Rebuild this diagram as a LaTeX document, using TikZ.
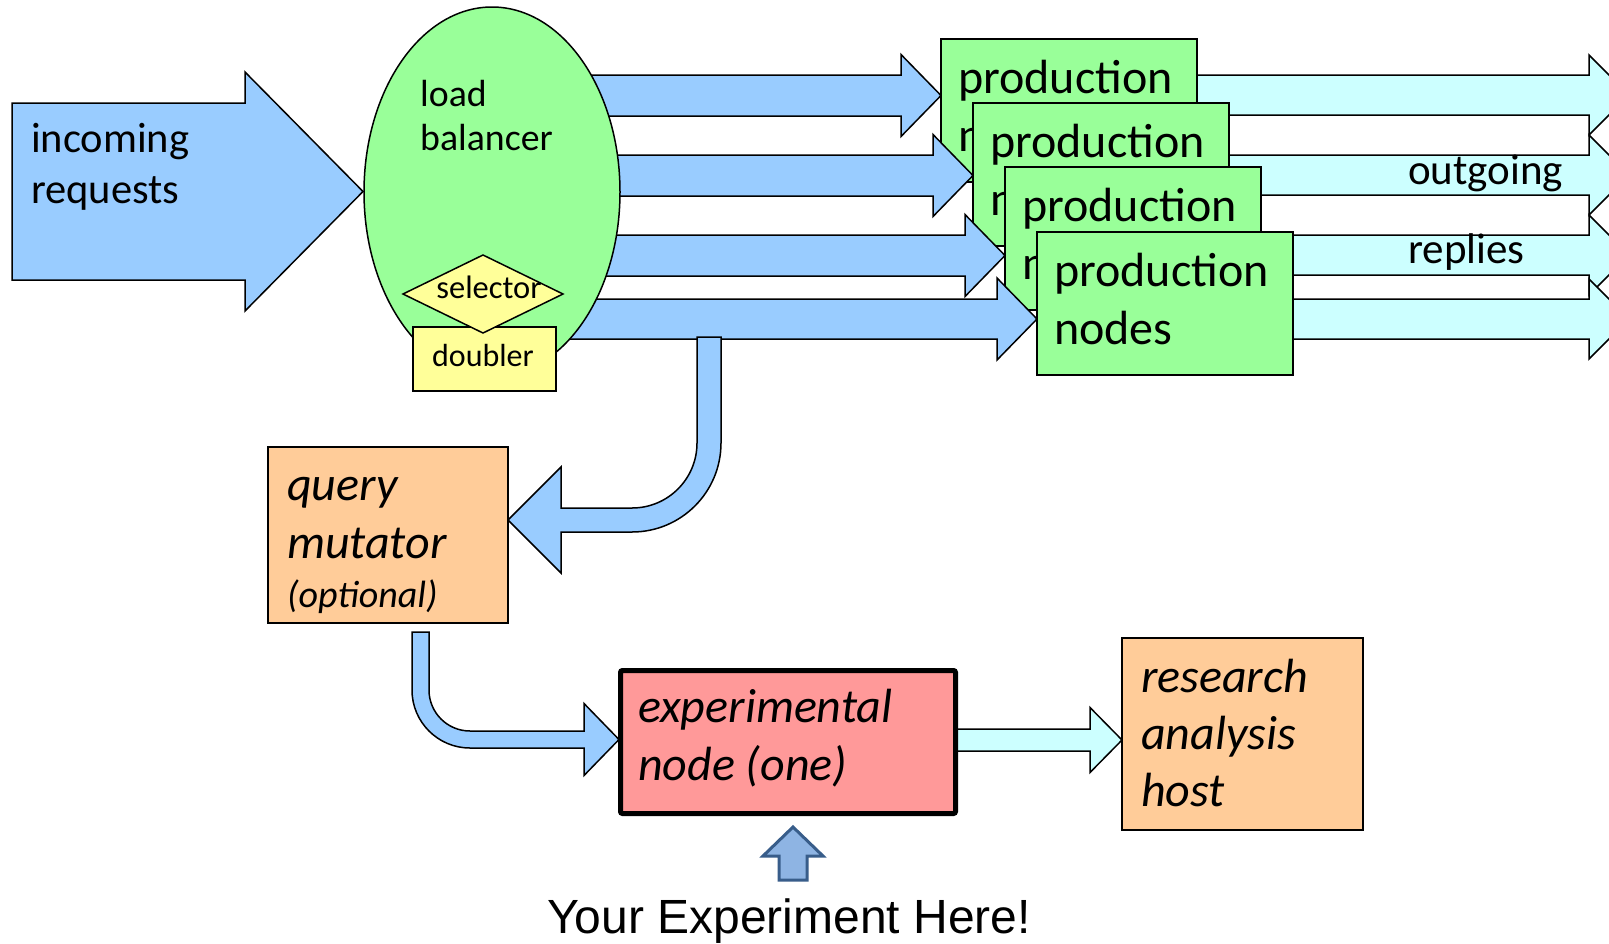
\documentclass[tikz,border=0pt]{standalone}
\usepackage{fontspec}
\setmainfont{Carlito}
\newfontfamily\arialfont{Liberation Sans}
\usetikzlibrary{shapes.geometric}
\definecolor{cblue}{HTML}{99CCFF}
\definecolor{ccyan}{HTML}{CCFFFF}
\definecolor{cgreen}{HTML}{99FF99}
\definecolor{cyellow}{HTML}{FFFF99}
\definecolor{corange}{HTML}{FFCC99}
\definecolor{cpink}{HTML}{FF9999}
\definecolor{upfill}{HTML}{8EB4E3}
\definecolor{upline}{HTML}{385D8A}
% block arrow: style, x start, x tip, y centre, shaft half width, head half width, head length
\newcommand{\hblk}[7]{\draw[#1] (#2,{#4-#5}) -- ({#3-#7},{#4-#5}) -- ({#3-#7},{#4-#6}) -- (#3,#4) -- ({#3-#7},{#4+#6}) -- ({#3-#7},{#4+#5}) -- (#2,{#4+#5}) -- cycle;}
\newcommand{\mlt}[1]{\begin{tabular}[t]{@{}l@{}}#1\end{tabular}}
\begin{document}
\begin{tikzpicture}[x=1pt,y=-1pt,
  outl/.style={draw=black, line width=1.5pt},
  bluearrow/.style={outl, fill=cblue},
  cyanarrow/.style={outl, fill=ccyan},
  boxbase/.style={outl, inner sep=0pt, outer sep=0pt, anchor=north west},
  prodbox/.style={boxbase, fill=cgreen, minimum width=256pt, minimum height=143pt},
  txt/.style={inner sep=0pt, anchor=base west},
  prodtxt/.style={txt, font=\fontsize{48}{58}\selectfont},
  itxt/.style={txt, font=\fontsize{48}{58}\selectfont\itshape}]
\useasboundingbox (0,0) rectangle (1609,943);
\clip (0,0) rectangle (1609,943);
\fill[white] (0,0) rectangle (1609,943);

% incoming requests
\hblk{bluearrow}{12}{363}{191.5}{88.5}{119.5}{118}
\node[txt, font=\fontsize{42.5}{51}\selectfont] (tin) at (31,152) {\mlt{incoming\\requests}};

% outgoing replies (behind production boxes)
\hblk{cyanarrow}{1100}{1629}{95}{20}{40}{40}
\hblk{cyanarrow}{1130}{1629}{175}{20}{40}{40}
\hblk{cyanarrow}{1160}{1629}{255}{20}{40}{40}
\hblk{cyanarrow}{1190}{1629}{319}{20}{40}{40}
\node[txt, font=\fontsize{43}{51}\selectfont] (tout) at (1408,184) {outgoing};
\node[txt, font=\fontsize{43}{51}\selectfont] (trep) at (1408,263) {replies};

% balancer outputs and production nodes
\hblk{bluearrow}{540}{941}{95.5}{20.5}{41}{40}
\node[prodbox] (p1) at (941,39) {};
\node[prodtxt] (t1) at (958,93) {\mlt{production\\nodes}};
\hblk{bluearrow}{540}{973}{175.5}{20.5}{41}{40}
\node[prodbox] (p2) at (973,103) {};
\node[prodtxt] (t2) at (990,157) {\mlt{production\\nodes}};
\hblk{bluearrow}{540}{1005}{255.5}{20.5}{41}{40}
\node[prodbox] (p3) at (1005,167) {};
\node[prodtxt] (t3) at (1022,221) {\mlt{production\\nodes}};
\hblk{bluearrow}{540}{1037}{319}{20}{41}{40}
\node[prodbox] (p4) at (1037,232) {};
\node[prodtxt] (t4) at (1054,286) {\mlt{production\\nodes}};

% load balancer
\node[outl, fill=cgreen, ellipse, minimum width=256pt, minimum height=370pt, inner sep=0pt] (lb) at (492,192) {};
\node[txt, font=\fontsize{37.8}{44}\selectfont] (tlb) at (420,106) {\mlt{load\\balancer}};
\node[boxbase, fill=cyellow, minimum width=143pt, minimum height=64pt] (dbl) at (413,327) {};
\draw[outl, fill=cyellow] (403,294) -- (483,255) -- (563,294) -- (483,333) -- cycle;
\node[inner sep=0pt, anchor=base, font=\fontsize{32.5}{38}\selectfont] (tsel) at (489,298) {selector};
\node[inner sep=0pt, anchor=base, font=\fontsize{32}{38}\selectfont] (tdbl) at (483,366) {doubler};

% copy to query mutator
\draw[bluearrow] (697,337) -- (721,337) -- (721,443) arc[start angle=0, end angle=90, radius=89]
  -- (561,532) -- (561,573) -- (508,520) -- (561,467) -- (561,508) -- (632,508)
  arc[start angle=90, end angle=0, radius=65] -- cycle;
\node[boxbase, fill=corange, minimum width=240pt, minimum height=176pt] (qm) at (268,447) {};
\node[itxt] (tqm) at (287,500) {\mlt{query\\mutator\\[-9pt]{\fontsize{38}{44}\selectfont(optional)}}};

% to experimental node
\draw[bluearrow] (412,632) -- (412,690) arc[start angle=180, end angle=90, radius=58]
  -- (584,748) -- (584,775.5) -- (619,739.5) -- (584,703.5) -- (584,731) -- (470,731)
  arc[start angle=90, end angle=180, radius=41] -- (429,632) -- cycle;
\hblk{cyanarrow}{950}{1122}{740}{11}{32.5}{32}
\node[draw=black, line width=5pt, rounded corners=2pt, fill=cpink, inner sep=0pt, outer sep=0pt,
  minimum width=335pt, minimum height=143pt, anchor=north west] (exp) at (620.5,670.5) {};
\node[itxt] (texp) at (638,722) {\mlt{experimental\\node (one)}};

% research analysis host
\node[boxbase, fill=corange, minimum width=241pt, minimum height=192pt] (rah) at (1122,638) {};
\node[txt, font=\fontsize{48}{57}\selectfont\itshape] (trah) at (1141,692) {\mlt{research\\analysis\\host}};

% your experiment here
\draw[line width=3pt, draw=upline, fill=upfill] (793,827) -- (823,856) -- (807,856) -- (807,880)
  -- (779,880) -- (779,856) -- (763,856) -- cycle;
\node[inner sep=0pt, anchor=base, font=\arialfont\fontsize{48}{56}\selectfont] (yeh) at (789,933) {Your Experiment Here!};
\end{tikzpicture}
\end{document}
